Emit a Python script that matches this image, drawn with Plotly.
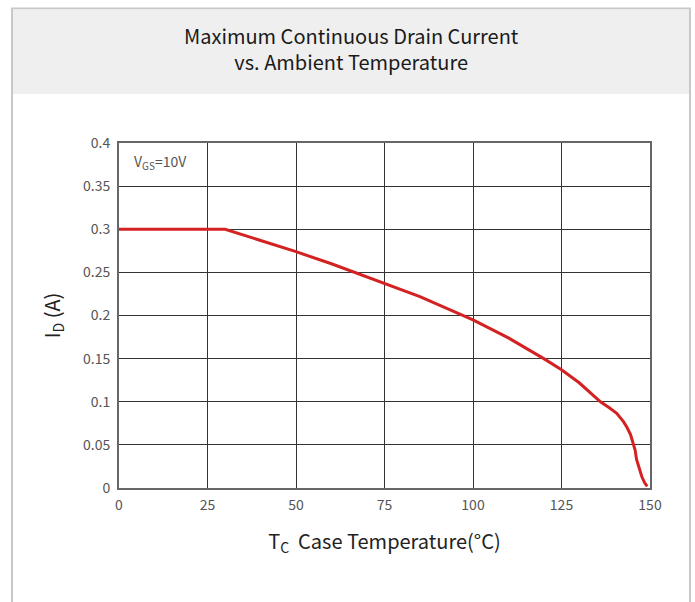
import plotly.graph_objects as go

temp_c = [0, 30, 40, 50, 60, 75, 85, 100, 110, 120, 125, 130, 136, 138.5, 140.6, 142.5, 143.4,
          144.5, 145.3, 145.8, 146.2, 147.0, 147.7, 148.5, 149.2]
current_a = [0.3, 0.3, 0.287, 0.274, 0.26, 0.237, 0.222, 0.195, 0.174, 0.15, 0.137, 0.122,
             0.1, 0.093, 0.0866, 0.077, 0.071, 0.062, 0.052, 0.044, 0.033, 0.021, 0.013, 0.006, 0.002]

x_ticks = [0, 25, 50, 75, 100, 125, 150]
y_ticks = [0, 0.05, 0.1, 0.15, 0.2, 0.25, 0.3, 0.35, 0.4]
y_tick_text = ["0", "0.05", "0.1", "0.15", "0.2", "0.25", "0.3", "0.35", "0.4"]

FONT = "Noto Sans CJK SC"

fig = go.Figure()
fig.add_trace(go.Scatter(x=temp_c, y=current_a, mode="lines",
                         line=dict(color="#d42222", width=3),
                         hoverinfo="skip", showlegend=False))

W, H = 695, 602
L, R, T, B = 119, 45, 143, 114
pw, ph = W - L - R, H - T - B

def px(x):
    return (x - L) / pw

def py(y):
    return (H - B - y) / ph

fig.update_layout(
    width=W, height=H,
    margin=dict(l=L, r=R, t=T, b=B, pad=0),
    paper_bgcolor="white", plot_bgcolor="white",
    font=dict(family=FONT, color="#444"),
    shapes=[
        dict(type="rect", xref="paper", yref="paper", x0=px(12), x1=px(690), y0=py(640), y1=py(8.5),
             line=dict(color="#c8c8c8", width=2), fillcolor="rgba(0,0,0,0)", layer="below"),
        dict(type="rect", xref="paper", yref="paper", x0=px(13), x1=px(689), y0=py(94), y1=py(9.5),
             line=dict(width=0), fillcolor="#efefef", layer="below"),
    ],
    annotations=[
        dict(text="Maximum Continuous Drain Current<br>vs. Ambient Temperature",
             xref="paper", yref="paper", x=px(351), y=py(49), xanchor="center", yanchor="middle",
             showarrow=False, font=dict(family=FONT, size=20, color="#1a1a1a", weight=400)),
        dict(text="V<sub><span style='font-size:10px'>GS</span></sub>=10V", xref="paper", yref="paper",
             x=px(132), y=py(162), xanchor="left", yanchor="middle", showarrow=False,
             font=dict(family=FONT, size=14, color="#555")),
    ],
    xaxis=dict(range=[0, 150], tickvals=x_ticks, ticks="", showgrid=True, gridcolor="#333",
               gridwidth=1, zeroline=False, showline=True, linecolor="#666", linewidth=2, mirror=True,
               ticklabelstandoff=3,
               tickfont=dict(family=FONT, size=14, color="#555"),
               title=dict(text="T<sub>C</sub>  Case Temperature(°C)", standoff=22,
                          font=dict(family=FONT, size=20, color="#222"))),
    yaxis=dict(range=[0, 0.4], tickvals=y_ticks, ticktext=y_tick_text, ticks="", showgrid=True,
               gridcolor="#333", gridwidth=1, zeroline=False, showline=True, linecolor="#666",
               linewidth=2, mirror=True, ticklabelstandoff=4,
               tickfont=dict(family=FONT, size=14, color="#555"),
               title=dict(text="I<sub>D</sub> (A)", standoff=17,
                          font=dict(family=FONT, size=20, color="#222"))),
)

fig.write_html("out.html")
